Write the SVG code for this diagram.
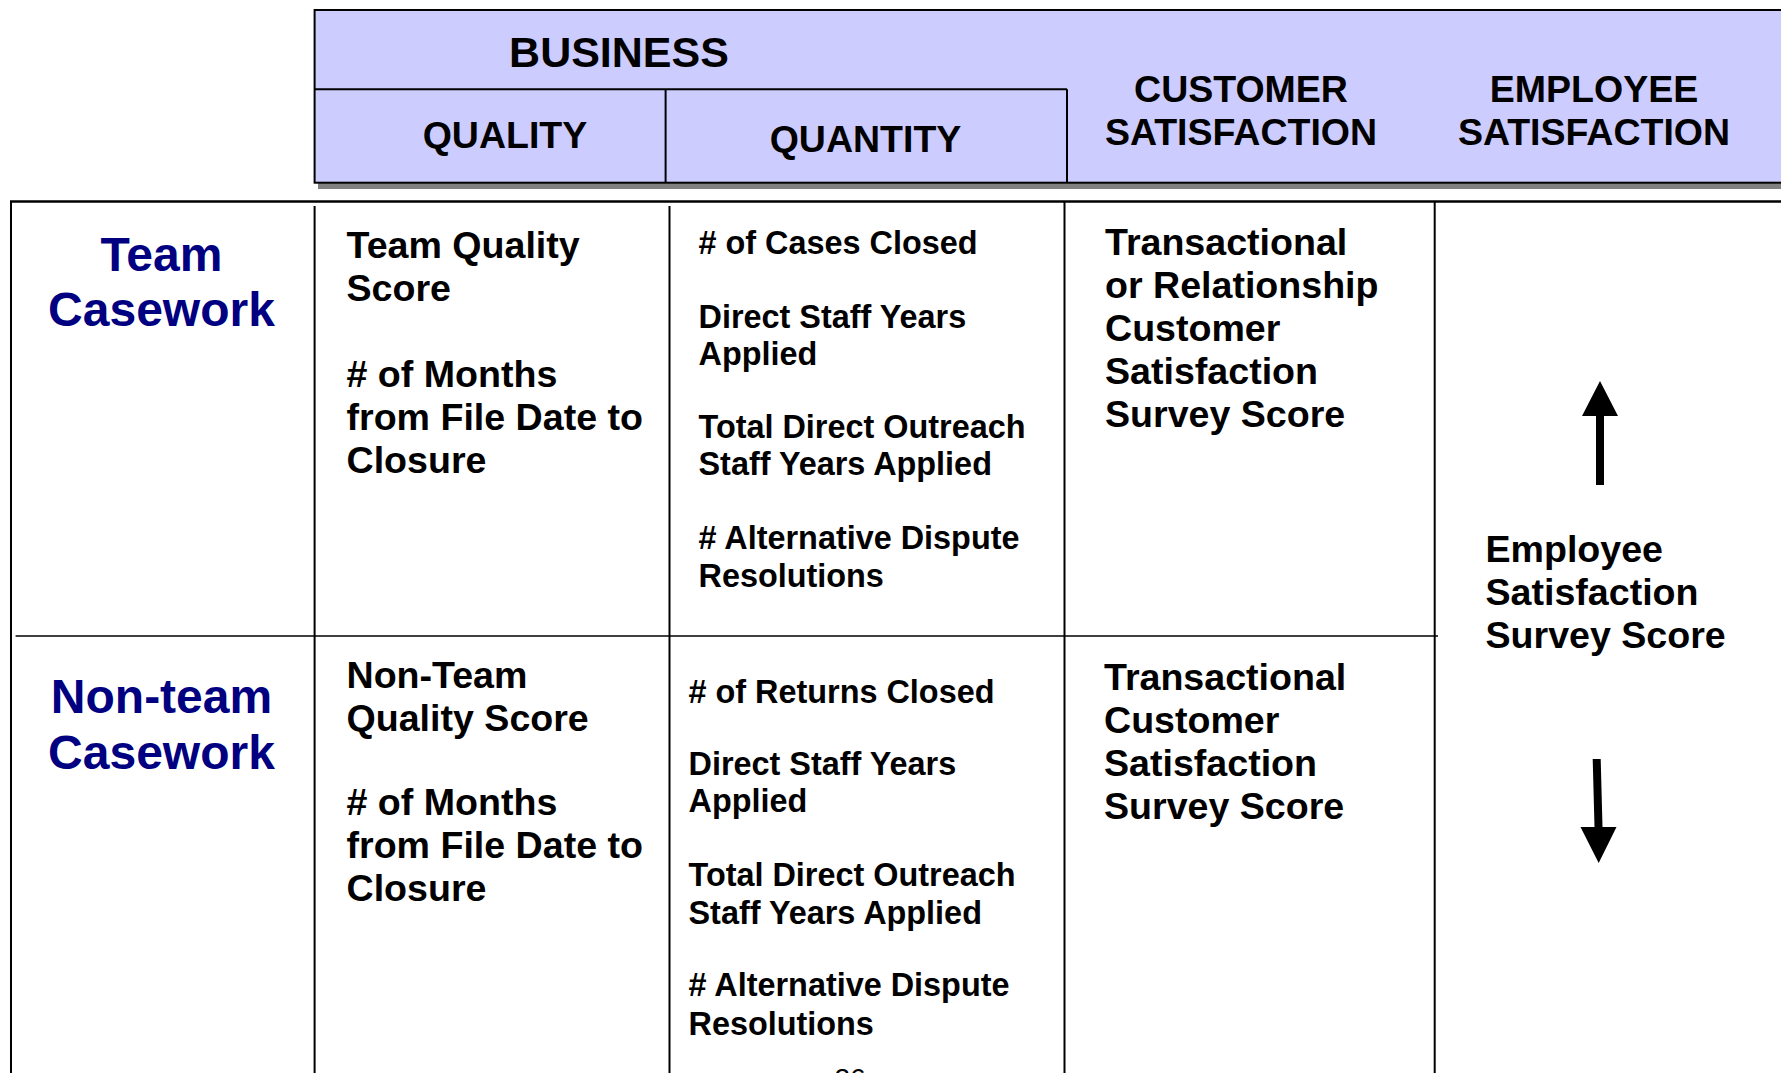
<svg xmlns="http://www.w3.org/2000/svg" width="1781" height="1073" viewBox="0 0 1781 1073">
<style>
  text { font-family: "Liberation Sans", Arial, sans-serif; font-weight: bold; fill: #000; }
  .hdr { font-size: 37.5px; text-anchor: middle; }
  .big { font-size: 43px; text-anchor: middle; }
  .row { font-size: 48px; fill: #000080; text-anchor: middle; }
  .t36 { font-size: 37.6px; }
  .t31 { font-size: 32.4px; }
  .ln { stroke: #000; stroke-width: 2; fill: none; }
  .thin { stroke: #000; stroke-width: 1.6; fill: none; }
  .pg { font-size: 28px; font-weight: normal; text-anchor: middle; }
  .arrow { fill: #000; }
</style>
<rect width="1781" height="1073" fill="#fff"/>

<g id="header">
  <rect x="318" y="15" width="1480" height="174" fill="#808080"/>
  <rect x="314.6" y="10" width="1480" height="172.7" fill="#CCCCFF" stroke="#000" stroke-width="2"/>
  <line class="ln" x1="314.6" y1="89.3" x2="1067" y2="89.3"/>
  <line class="ln" x1="1067" y1="89.3" x2="1067" y2="182.7"/>
  <line class="ln" x1="665.6" y1="89.3" x2="665.6" y2="182.7"/>
  <text class="big" x="619" y="67">BUSINESS</text>
  <text class="hdr" x="505" y="148">QUALITY</text>
  <text class="hdr" x="865.5" y="152">QUANTITY</text>
  <text class="hdr" x="1241" y="102">CUSTOMER</text>
  <text class="hdr" x="1241" y="145">SATISFACTION</text>
  <text class="hdr" x="1594" y="102">EMPLOYEE</text>
  <text class="hdr" x="1594" y="145">SATISFACTION</text>
</g>

<g id="grid">
  <line x1="10" y1="201.5" x2="1781" y2="201.5" stroke="#000" stroke-width="2.5"/>
  <line class="ln" x1="11" y1="201" x2="11" y2="1073"/>
  <line class="ln" x1="314.6" y1="206" x2="314.6" y2="1073"/>
  <line class="ln" x1="669.5" y1="206" x2="669.5" y2="1073"/>
  <line class="ln" x1="1064.5" y1="202" x2="1064.5" y2="1073"/>
  <line class="ln" x1="1434.7" y1="202" x2="1434.7" y2="1073"/>
  <line class="thin" x1="15.6" y1="636" x2="1438" y2="636"/>
</g>

<g id="row-team">
  <text class="row" x="161.5" y="271">Team</text>
  <text class="row" x="161.5" y="326">Casework</text>
</g>
<g id="row-nonteam">
  <text class="row" x="161.5" y="713">Non-team</text>
  <text class="row" x="161.5" y="769">Casework</text>
</g>

<g id="team-quality">
  <text class="t36" x="346.5" y="258">Team Quality</text>
  <text class="t36" x="346.5" y="301">Score</text>
  <text class="t36" x="346.5" y="387"># of Months</text>
  <text class="t36" x="346.5" y="430">from File Date to</text>
  <text class="t36" x="346.5" y="473">Closure</text>
</g>

<g id="team-quantity">
  <text class="t31" x="698.5" y="254"># of Cases Closed</text>
  <text class="t31" x="698.5" y="327.5">Direct Staff Years</text>
  <text class="t31" x="698.5" y="365">Applied</text>
  <text class="t31" x="698.5" y="437.5">Total Direct Outreach</text>
  <text class="t31" x="698.5" y="475">Staff Years Applied</text>
  <text class="t31" x="698.5" y="548.5">&#35; Alternative Dispute</text>
  <text class="t31" x="698.5" y="586.5">Resolutions</text>
</g>

<g id="team-customer">
  <text class="t36" x="1105" y="255">Transactional</text>
  <text class="t36" x="1105" y="298">or Relationship</text>
  <text class="t36" x="1105" y="341">Customer</text>
  <text class="t36" x="1105" y="384">Satisfaction</text>
  <text class="t36" x="1105" y="427">Survey Score</text>
</g>

<g id="nonteam-quality">
  <text class="t36" x="346.5" y="688">Non-Team</text>
  <text class="t36" x="346.5" y="731">Quality Score</text>
  <text class="t36" x="346.5" y="815"># of Months</text>
  <text class="t36" x="346.5" y="858">from File Date to</text>
  <text class="t36" x="346.5" y="901">Closure</text>
</g>

<g id="nonteam-quantity">
  <text class="t31" x="688.5" y="702.5"># of Returns Closed</text>
  <text class="t31" x="688.5" y="775">Direct Staff Years</text>
  <text class="t31" x="688.5" y="812">Applied</text>
  <text class="t31" x="688.5" y="885.5">Total Direct Outreach</text>
  <text class="t31" x="688.5" y="923.5">Staff Years Applied</text>
  <text class="t31" x="688.5" y="996">&#35; Alternative Dispute</text>
  <text class="t31" x="688.5" y="1034.5">Resolutions</text>
</g>

<g id="nonteam-customer">
  <text class="t36" x="1104" y="690">Transactional</text>
  <text class="t36" x="1104" y="733">Customer</text>
  <text class="t36" x="1104" y="776">Satisfaction</text>
  <text class="t36" x="1104" y="819">Survey Score</text>
</g>

<g id="employee">
  <text class="t36" x="1485.5" y="562">Employee</text>
  <text class="t36" x="1485.5" y="605">Satisfaction</text>
  <text class="t36" x="1485.5" y="648">Survey Score</text>
</g>

<g id="connectors">
  <polygon class="arrow" points="1600,381 1618,416 1604,416 1604,485 1596,485 1596,416 1582,416"/>
  <polygon class="arrow" points="1592.7,759 1600.7,759 1602.5,827 1616.5,827 1598.7,863 1580.5,827 1594.5,827"/>
</g>

<g id="page-number">
  <text class="pg" x="850" y="1088">26</text>
</g>
</svg>
